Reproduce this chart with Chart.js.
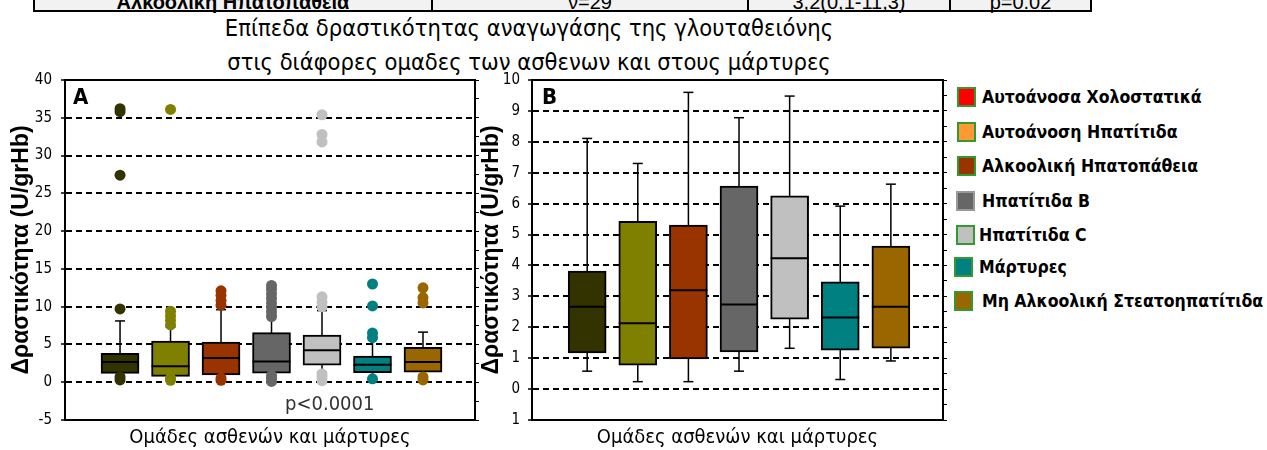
<!DOCTYPE html>
<html>
<head>
<meta charset="utf-8">
<script src="https://cdn.jsdelivr.net/npm/chart.js@4.4.0/dist/chart.umd.min.js"></script>
<style>
    body { margin: 0; background: #fff; width: 1267px; height: 450px; position: relative; overflow: hidden; }
    .narrow { font-family: 'DejaVu Sans Condensed', 'Liberation Sans Narrow', sans-serif; }
    #tableRow { position: absolute; left: 33px; top: -30px; width: 1059px; height: 42px; box-sizing: border-box;
                border: 2px solid #000; background: #f2f2f2; }
    #tableRow .sep { position: absolute; top: 0; width: 2px; height: 100%; background: #000; }
    #tableRow .cell { position: absolute; top: 19px; font: 20px 'Liberation Sans', Arial, sans-serif; line-height: 22px;
                      text-align: center; color: #000; white-space: nowrap; }
    #title { position: absolute; left: 0; top: 11px; width: 1058px; text-align: center; font-size: 23.5px; line-height: 34px; color: #000; }
    .chartBox { position: absolute; top: 60px; }
    .panelTag { position: absolute; font-weight: bold; font-size: 22px; color: #000; }
    #pValue { position: absolute; left: 285px; top: 391px; font-size: 20px; color: #333; }
    .legendItem { position: absolute; height: 20px; white-space: nowrap; }
    .legendItem .swatch { position: absolute; left: 0; top: 0; width: 19px; height: 20px; box-sizing: border-box; border: 2px solid #339933; }
    .legendItem .label { position: absolute; top: -3px; font-weight: bold; font-size: 17.5px; line-height: 26px; color: #000; }
</style>
</head>
<body>

<div id="tableRow">
    <div class="sep" style="left:396px"></div>
    <div class="sep" style="left:712px"></div>
    <div class="sep" style="left:914px"></div>
    <div class="cell" style="left:0; width:396px; font-weight:bold">Αλκοολική Ηπατοπάθεια</div>
    <div class="cell" style="left:398px; width:314px">ν=29</div>
    <div class="cell" style="left:714px; width:200px">3,2(0,1-11,3)</div>
    <div class="cell" style="left:916px; width:139px">p=0.02</div>
</div>

<div id="title" class="narrow">Επίπεδα δραστικότητας αναγωγάσης της γλουταθειόνης<br>στις διάφορες ομαδες των ασθενων και στους μάρτυρες</div>

<div class="chartBox" style="left:0"><canvas id="chartA" width="480" height="390"></canvas></div>
<div class="chartBox" style="left:470px"><canvas id="chartB" width="478" height="390"></canvas></div>

<div class="panelTag narrow" style="left:73px; top:84px">A</div>
<div class="panelTag narrow" style="left:542px; top:84px">B</div>
<div id="pValue" class="narrow">p&lt;0.0001</div>

<div id="legend" class="narrow"></div>

<script>
// groups of patients and controls
const groupNames = [
    'Αυτοάνοσα Χολοστατικά',
    'Αυτοάνοση Ηπατίτιδα',
    'Αλκοολική Ηπατοπάθεια',
    'Ηπατίτιδα Β',
    'Ηπατίτιδα C',
    'Μάρτυρες',
    'Μη Αλκοολική Στεατοηπατίτιδα'
];
const groupPos = [1, 2, 3, 4, 5, 6, 7];
const boxColors = ['#333300', '#808000', '#993300', '#666666', '#c0c0c0', '#008080', '#996600'];
const legendColors = ['#ff0000', '#ff9933', '#993300', '#666666', '#c0c0c0', '#008080', '#996600'];
const legendBorders = ['#339933', '#339933', '#339933', '#999999', '#339933', '#339933', '#339933'];

// box plot values (U/grHb)
const whiskerLow = [0.58, 0.24, 0.24, 0.58, 1.32, 0.31, 0.91];
const quart1 = [1.17, 0.77, 0.98, 1.20, 2.26, 1.26, 1.32];
const medians = [2.66, 2.13, 3.20, 2.74, 4.23, 2.32, 2.66];
const quart3 = [3.82, 5.43, 5.31, 6.57, 6.25, 3.47, 4.63];
const whiskerHigh = [8.11, 7.30, 9.60, 8.78, 9.48, 5.92, 6.63];

// outliers shown in panel A
const outliers = [
    [0.3, 0.7, 9.7, 27.4, 35.8, 36.2],
    [0.25, 0.55, 7.6, 8.2, 8.8, 9.4, 36.1],
    [0.25, 0.55, 10.2, 10.8, 11.5, 12.1],
    [0.1, 0.5, 0.9, 8.7, 9.3, 9.9, 10.5, 11.1, 11.7, 12.3, 12.8],
    [0.2, 0.7, 1.1, 10.0, 10.6, 11.3, 31.8, 32.8, 35.4],
    [0.45, 5.9, 6.5, 10.1, 13.0],
    [0.3, 0.7, 10.5, 11.2, 12.5]
];

// axis ranges and texts
const aRange = [-5, 40, 5];
const bRange = [-1, 10, 1];
const xRange = [-0.09, 8.03];
const yTitle = 'Δραστικότητα (U/grHb)';
const xTitle = 'Ομάδες ασθενών και μάρτυρες';

const NARROW = "'DejaVu Sans Condensed', 'Liberation Sans Narrow', sans-serif";

// build the legend
const legend = document.getElementById('legend');
const legendY = [87, 122, 156, 191, 225, 257, 291];
const legendX = [957, 957, 957, 956, 956, 954, 954];
const labelX = [982, 982, 982, 982, 979, 979, 982];
groupNames.forEach(function (name, i) {
    const item = document.createElement('div');
    item.className = 'legendItem';
    item.style.left = legendX[i] + 'px';
    item.style.top = legendY[i] + 'px';
    item.innerHTML = '<div class="swatch" style="background:' + legendColors[i] + ';border-color:' + legendBorders[i] + '"></div>' +
        '<div class="label" style="left:' + (labelX[i] - legendX[i]) + 'px">' + name + '</div>';
    legend.appendChild(item);
});

function buildDatasets (withOutliers) {
    // whisker lines from low to high, broken between groups
    const whiskerPts = [];
    const capPts = [];
    groupPos.forEach(function (x, i) {
        whiskerPts.push({ x: x, y: whiskerLow[i] }, { x: x, y: whiskerHigh[i] }, { x: x, y: null });
        capPts.push({ x: x, y: whiskerLow[i] }, { x: x, y: whiskerHigh[i] });
    });

    const datasets = [
        {
            type: 'line',
            data: whiskerPts,
            borderColor: '#000',
            borderWidth: 1.5,
            pointRadius: 0,
            fill: false,
            order: 4
        },
        {
            type: 'bar',
            data: groupPos.map((x, i) => ({ x: x, y: [quart1[i], quart3[i]] })),
            backgroundColor: boxColors,
            borderColor: '#000',
            borderWidth: 2,
            borderSkipped: false,
            barThickness: 38,
            order: 3
        },
        {
            type: 'scatter',
            data: capPts,
            pointStyle: 'line',
            pointRadius: 5,
            pointBorderWidth: 1.5,
            pointBorderColor: '#000',
            order: 2
        },
        {
            type: 'scatter',
            data: groupPos.map((x, i) => ({ x: x, y: medians[i] })),
            pointStyle: 'line',
            pointRadius: 19,
            pointBorderWidth: 2,
            pointBorderColor: '#000',
            order: 1
        }
    ];

    if (withOutliers) {
        const pts = [];
        const cols = [];
        outliers.forEach(function (list, i) {
            list.forEach(function (v) {
                pts.push({ x: groupPos[i], y: v });
                cols.push(boxColors[i]);
            });
        });
        datasets.push({
            type: 'scatter',
            data: pts,
            pointStyle: 'circle',
            pointRadius: 5.5,
            pointBackgroundColor: cols,
            pointBorderColor: cols,
            pointBorderWidth: 0,
            order: 0
        });
    }
    return datasets;
}

function buildOptions (range, minorStep, axisWidth, tickPad, tickCallback) {
    return {
        responsive: false,
        animation: false,
        events: [],
        // no auto padding, the plot frame is sized by hand below
        layout: { autoPadding: false, padding: { top: 20, right: 0, bottom: 0, left: 0 } },
        plugins: { legend: { display: false }, tooltip: { enabled: false } },
        scales: {
            x: {
                type: 'linear',
                position: 'bottom',
                min: xRange[0],
                max: xRange[1],
                offset: false,
                ticks: { display: false },
                grid: { display: false, drawTicks: false },
                border: { color: '#000', width: 2 },
                title: {
                    display: true,
                    text: xTitle,
                    color: '#000',
                    font: { family: NARROW, size: 20 },
                    padding: { top: 0, bottom: 0 }
                },
                afterFit: function (s) { s.height = 30; }
            },
            xTop: {
                type: 'linear',
                position: 'top',
                min: xRange[0],
                max: xRange[1],
                ticks: { display: false },
                grid: { display: false, drawTicks: false },
                border: { color: '#000', width: 2 },
                afterFit: function (s) { s.height = 0; }
            },
            y: {
                type: 'linear',
                position: 'left',
                min: range[0],
                max: range[1],
                ticks: {
                    stepSize: range[2],
                    color: '#000',
                    padding: tickPad,
                    font: { family: NARROW, size: 15 },
                    callback: tickCallback
                },
                grid: { color: '#000', lineWidth: 2, tickLength: 4, tickWidth: 1.5 },
                border: { color: '#000', width: 2, dash: [6, 4] },
                title: {
                    display: true,
                    text: yTitle,
                    color: '#000',
                    font: { family: "'Liberation Sans', Arial, sans-serif", size: 23, weight: 'bold' },
                    padding: { top: 8, bottom: 0 }
                },
                afterFit: function (s) { s.width = axisWidth; }
            },
            yRight: {
                type: 'linear',
                position: 'right',
                min: range[0],
                max: range[1],
                ticks: { display: false, stepSize: minorStep },
                grid: { drawOnChartArea: false, color: '#000', tickLength: 4, lineWidth: 1 },
                border: { color: '#000', width: 2 },
                afterFit: function (s) { s.width = 5; }
            }
        }
    };
}

// panel A: all values with outliers
new Chart(document.getElementById('chartA'), {
    type: 'bar',
    data: { datasets: buildDatasets(true) },
    options: buildOptions(aRange, 2.5, 65, 9, v => String(v))
});

// panel B: zoom on the boxes, bottom label is shown without sign as in the source
new Chart(document.getElementById('chartB'), {
    type: 'bar',
    data: { datasets: buildDatasets(false) },
    options: buildOptions(bRange, 0.5, 62, 8, v => String(Math.abs(v)))
});
</script>
</body>
</html>
